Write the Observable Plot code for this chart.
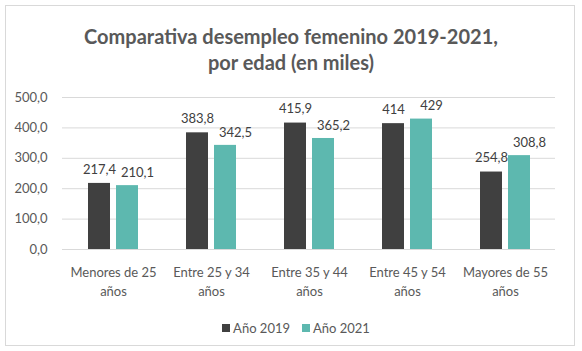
<!DOCTYPE html>
<html><head><meta charset="utf-8">
<script src="https://cdn.jsdelivr.net/npm/d3@7"></script>
<script src="https://cdn.jsdelivr.net/npm/@observablehq/plot@0.6"></script>
<style>
html,body{margin:0;padding:0;background:#fff;}
#wrap{position:relative;width:582px;height:351px;font-family:Lato,"Open Sans",sans-serif;overflow:hidden;}
#frame{position:absolute;left:5px;top:5px;width:570px;height:341px;border:1px solid #d9d9d9;box-sizing:border-box;}
#title{position:absolute;left:0;top:23px;width:582px;text-align:center;font-weight:bold;font-size:20px;line-height:26px;color:#595959;}
#chart{position:absolute;left:0;top:80px;}
#legend{position:absolute;left:0;top:320px;width:582px;display:flex;justify-content:center;gap:12px;font-size:13px;color:#595959;padding-left:10px;box-sizing:border-box;}
#legend span.item{display:flex;align-items:center;gap:3px;}
#legend i{display:inline-block;width:8px;height:8px;}
</style>
</head><body>
<div id="wrap">
  <div id="frame"></div>
  <div id="title">Comparativa desempleo femenino 2019-2021,<br>por edad (en miles)</div>
  <div id="chart"></div>
  <div id="legend"></div>
</div>
<script>
const categories = ["Menores de 25 años", "Entre 25 y 34 años", "Entre 35 y 44 años", "Entre 45 y 54 años", "Mayores de 55 años"];
const series = ["Año 2019", "Año 2021"];
const values2019 = [217.4, 383.8, 415.9, 414, 254.8];
const values2021 = [210.1, 342.5, 365.2, 429, 308.8];
const yTicks = [0, 100, 200, 300, 400, 500];
const colors = ["#404040", "#5db8af"];

const d19 = categories.map((c, i) => ({cat: c, value: values2019[i]}));
const d21 = categories.map((c, i) => ({cat: c, value: values2021[i]}));
const fmtVal = v => Number.isInteger(v) ? String(v) : String(v).replace(".", ",");

const chart = Plot.plot({
  width: 582,
  height: 220,
  marginLeft: 62,
  marginRight: 27,
  marginTop: 17,
  marginBottom: 51,
  style: {fontFamily: "Lato, 'Open Sans', sans-serif", fontSize: "13px", color: "#595959", background: "transparent"},
  x: {domain: categories, paddingInner: 0.49, paddingOuter: 0.245},
  y: {domain: [0, 500]},
  marks: [
    Plot.ruleY(yTicks, {stroke: "#d9d9d9", strokeWidth: 1}),
    Plot.axisX({tickSize: 0, tickPadding: 14, label: null, lineHeight: 1.45, fontSize: 13,
      tickFormat: d => d.replace(" años", "\naños")}),
    Plot.axisY({ticks: yTicks, tickSize: 0, tickPadding: 15, label: null, fontSize: 13,
      tickFormat: d => d.toFixed(1).replace(".", ",")}),
    Plot.barY(d19, {x: "cat", y: "value", fill: colors[0], insetRight: 28}),
    Plot.barY(d21, {x: "cat", y: "value", fill: colors[1], insetLeft: 28}),
    Plot.text(d19, {x: "cat", y: "value", text: d => fmtVal(d.value), dx: -14, dy: -14, fill: "#404040", fontSize: 13}),
    Plot.text(d21, {x: "cat", y: "value", text: d => fmtVal(d.value), dx: 24, dy: -13, fill: "#404040", fontSize: 13})
  ]
});
document.getElementById("chart").appendChild(chart);

const legend = document.getElementById("legend");
series.forEach((s, i) => {
  const item = document.createElement("span");
  item.className = "item";
  const sw = document.createElement("i");
  sw.style.background = colors[i];
  item.appendChild(sw);
  item.appendChild(document.createTextNode(s));
  legend.appendChild(item);
});
</script>
</body></html>
